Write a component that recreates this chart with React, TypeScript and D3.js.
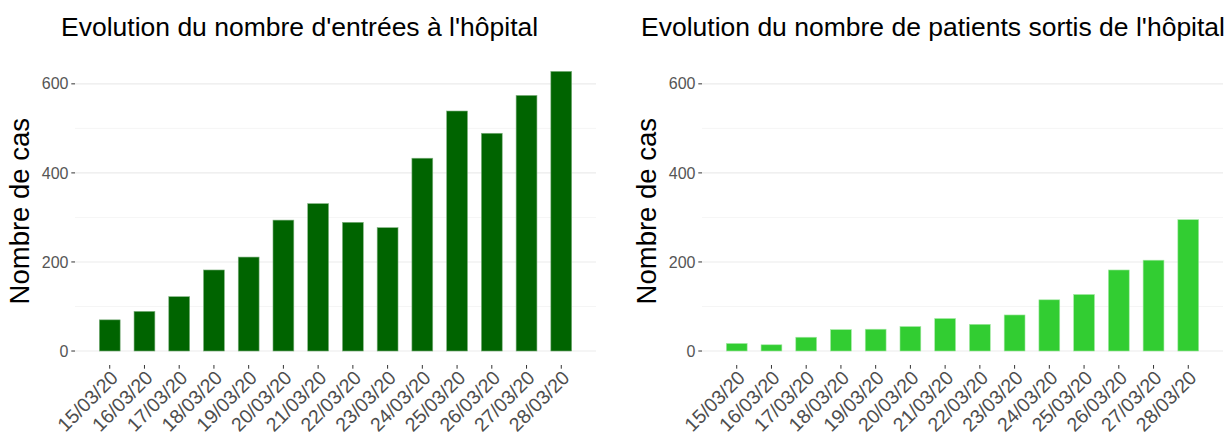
import React from "react";
import * as d3 from "d3";

const dates = ["15/03/20","16/03/20","17/03/20","18/03/20","19/03/20","20/03/20","21/03/20","22/03/20","23/03/20","24/03/20","25/03/20","26/03/20","27/03/20","28/03/20"];
const entrees = [70, 89, 122, 182, 211, 294, 331, 289, 277, 433, 539, 489, 574, 628];
const sorties = [17, 14, 31, 48, 49, 55, 73, 60, 81, 115, 127, 182, 204, 295];
const yTicks = [0, 200, 400, 600];
const yMinor = [100, 300, 500];
const titles = ["Evolution du nombre d'entrées à l'hôpital", "Evolution du nombre de patients sortis de l'hôpital"];
const yTitle = "Nombre de cas";

const FONT = "'Liberation Sans', Arial, Helvetica, sans-serif";
const W = 1230, H = 439;
const panelTop = 57.4, panelBottom = 365, panelWidth = 521;
const yMax = 628;

function Panel({ ox, values, fill, stroke, title, titleX }: { ox: number; values: number[]; fill: string; stroke: string; title: string; titleX: number }) {
  const x = d3.scaleBand<string>().domain(dates).range([ox, ox + panelWidth]).paddingInner(0.4).paddingOuter(0.7);
  const y = d3.scaleLinear().domain([-yMax * 0.05, yMax * 1.05]).range([panelBottom, panelTop]);
  const x0 = ox, x1 = ox + panelWidth;
  return (
    <g>
      <text x={titleX} y={36} fontSize={26.5} fill="#000" fontFamily={FONT}>{title}</text>
      {yMinor.map((v) => (
        <line key={"m" + v} x1={x0} x2={x1} y1={y(v)} y2={y(v)} stroke="#f2f2f2" strokeWidth={0.8} />
      ))}
      {yTicks.map((v) => (
        <line key={"g" + v} x1={x0} x2={x1} y1={y(v)} y2={y(v)} stroke="#ebebeb" strokeWidth={1.1} />
      ))}
      {values.map((v, i) => (
        <rect key={i} x={x(dates[i])} y={y(v)} width={x.bandwidth()} height={y(0) - y(v)} fill={fill} stroke={stroke} strokeWidth={0.6} />
      ))}
      {yTicks.map((v) => (
        <g key={"t" + v}>
          <line x1={x0 - 3.7} x2={x0} y1={y(v)} y2={y(v)} stroke="#333" strokeWidth={1} />
          <text x={x0 - 6.5} y={y(v)} dy="0.35em" textAnchor="end" fontSize={16} fill="#555" fontFamily={FONT}>{v}</text>
        </g>
      ))}
      {dates.map((d) => {
        const cx = (x(d) as number) + x.bandwidth() / 2;
        return (
          <g key={"x" + d}>
            <line x1={cx} x2={cx} y1={panelBottom} y2={panelBottom + 3.7} stroke="#333" strokeWidth={1} />
            <text transform={`translate(${cx + 9.5},${379}) rotate(-45)`} textAnchor="end" fontSize={19.5} fill="#4d4d4d" fontFamily={FONT}>{d}</text>
          </g>
        );
      })}
      <text transform={`translate(${ox - 46},${(panelTop + panelBottom) / 2}) rotate(-90)`} textAnchor="middle" fontSize={27.5} fill="#000" fontFamily={FONT}>{yTitle}</text>
    </g>
  );
}

export default function App() {
  return (
    <svg width={W} height={H} style={{ position: "absolute", left: 0, top: 0, background: "#fff" }}>
      <rect x={0} y={0} width={W} height={H} fill="#fff" />
      <Panel ox={75} values={entrees} fill="#006400" stroke="#7fb17f" title={titles[0]} titleX={61} />
      <Panel ox={702} values={sorties} fill="#32CD32" stroke="#a6e9a6" title={titles[1]} titleX={641} />
    </svg>
  );
}
